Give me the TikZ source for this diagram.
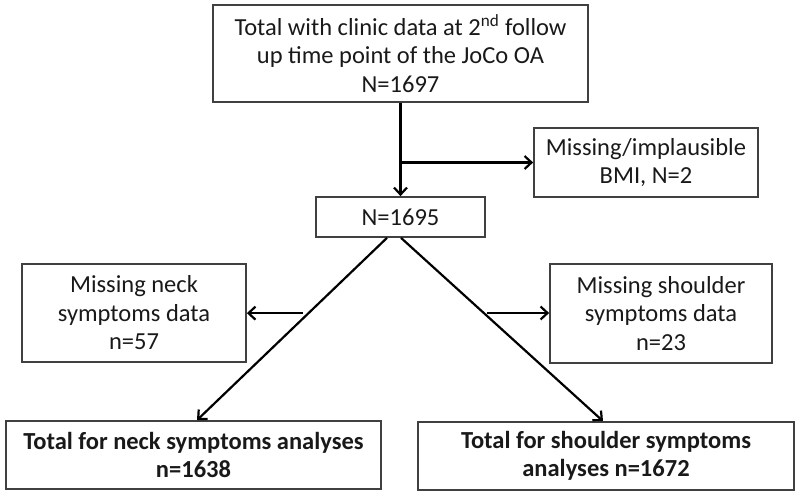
\documentclass[tikz,border=0pt]{standalone}
\usepackage{fontspec}
\setmainfont{Carlito}
\usetikzlibrary{arrows.meta,calc}
\begin{document}
\begin{tikzpicture}[x=1pt,y=-1pt,
  box/.style={draw=black!75,line width=1.7pt,inner sep=0pt,align=center,
    font=\fontsize{24.5}{28.5}\selectfont,text=black!90},
  boldbox/.style={box,font=\fontsize{24.5}{28.5}\selectfont\bfseries},
  arr/.style={line width=2.2pt,-{Straight Barb[length=7pt,width=13pt,line width=2.2pt]}}]
\useasboundingbox (0,0) rectangle (800,496);
\node[box,minimum width=375pt,minimum height=97pt] (top) at (400.5,53.5)
  {Total with clinic data at 2\textsuperscript{nd} follow\\up time point of the JoCo OA\\N=1697};
\node[box,minimum width=224pt,minimum height=69pt] (bmi) at (646,162.5)
  {Missing/implausible\\BMI, N=2};
\node[box,minimum width=169pt,minimum height=40pt] (mid) at (400.5,217) {N=1695};
\node[box,minimum width=224pt,minimum height=98pt] (neck) at (134,313)
  {Missing neck\\symptoms data\\n=57};
\node[box,minimum width=222pt,minimum height=99pt] (shoulder) at (661,313.5)
  {Missing shoulder\\symptoms data\\n=23};
\node[boldbox,minimum width=375pt,minimum height=68pt] (totneck) at (193.5,455)
  {Total for neck symptoms analyses\\n=1638};
\node[boldbox,minimum width=376pt,minimum height=68pt] (totshoulder) at (606,456)
  {Total for shoulder symptoms\\analyses n=1672};
% arrows
\draw[arr] (top.south) -- (mid.north);
\draw[arr] (top.south |- bmi.west) -- (bmi.west);
\coordinate (ls) at ($(mid.south)+(-13.5,0)$);
\coordinate (le) at ($(totneck.north)+(3.5,0)$);
\coordinate (rs) at ($(mid.south)+(0.5,0)$);
\coordinate (re) at ($(totshoulder.north)+(-3,0)$);
\draw[arr] (ls) -- (le);
\draw[arr] (rs) -- (re);
\coordinate (lb) at ($(ls)!0.413!(le)$);
\coordinate (rb) at ($(rs)!0.41!(re)$);
\draw[arr] ($(lb)+(-6,0)$) -- (lb -| neck.east);
\draw[arr] ($(rb)+(3,0)$) -- (rb -| shoulder.west);
\end{tikzpicture}
\end{document}
